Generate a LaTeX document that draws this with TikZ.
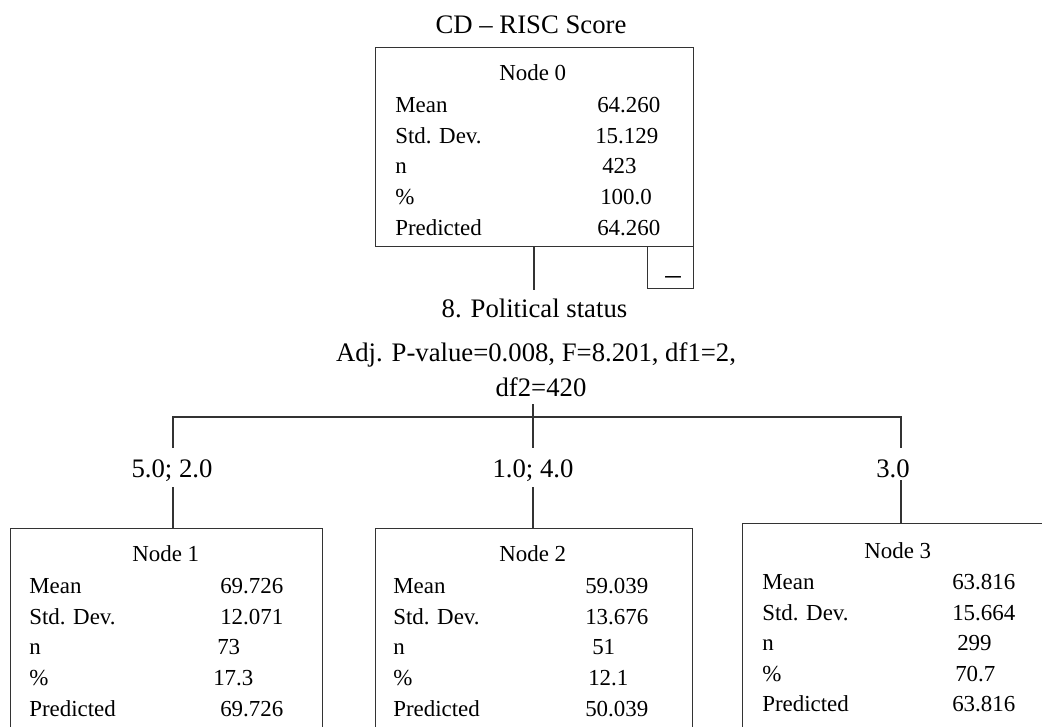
\documentclass[tikz,border=0pt]{standalone}
\usepackage{fontspec}
\setmainfont{Liberation Serif}
\usetikzlibrary{calc}
\begin{document}
\begin{tikzpicture}[x=0.025cm,y=-0.025cm]
\tikzset{every node/.style={inner sep=0pt},
 treebox/.style={draw=black!80, line width=1pt, anchor=north west},
 bigtxt/.style={anchor=base, font=\fontsize{19}{22}\selectfont},
 boxtxt/.style={anchor=base west, font=\fontsize{16.3}{19}\selectfont},
 boxhead/.style={anchor=base, font=\fontsize{16.3}{19}\selectfont},
 link/.style={draw=black!80, line width=1pt}}
\useasboundingbox (0,0) rectangle (1042,726);
\clip (0,0) rectangle (1042,726);

% root node
\node[bigtxt] (title) at (531,33) {CD -- RISC Score};
\node[treebox, minimum width=7.95cm, minimum height=4.975cm] (n0) at (375,47) {};
\node[treebox, minimum width=1.15cm, minimum height=1.05cm] (n0tog) at (647,246) {};
\node[anchor=base, font=\fontsize{22}{24}\selectfont] (n0minus) at (673,284.5) {--};
\node[boxhead] (n0h) at ($(n0.north)+(-2,33.6)$) {Node 0};
\foreach \lab/\val/\dx [count=\k] in {Mean/64.260/222, Std. Dev./15.129/220, n/423/227, \%/100.0/225, Predicted/64.260/222}{
  \node[boxtxt] (n0l\k) at ($(n0.north west)+(20,{65.6+30.6*(\k-1)})$) {\lab};
  \node[boxtxt] (n0v\k) at ($(n0.north west)+(\dx,{65.6+30.6*(\k-1)})$) {\val};
}

% split
\node[bigtxt] (split) at (534.5,317) {8. Political status};
\node[bigtxt] (splitstat) at (536,361) {Adj. P-value=0.008, F=8.201, df1=2,};
\node[bigtxt] (splitdf) at (541,396) {df2=420};

\coordinate (n0end) at (534,290);
\coordinate (hubtop) at (533,404);
\coordinate (hub) at (533,417);
\coordinate (b1top) at (173,448);
\coordinate (b2top) at (533,448);
\coordinate (b3top) at (901,448);
\coordinate (b1bot) at (173,487);
\coordinate (b2bot) at (533,487);
\coordinate (b3bot) at (901,480);

% branch labels
\node[bigtxt] (b1) at (172,477) {5.0; 2.0};
\node[bigtxt] (b2) at (533,477) {1.0; 4.0};
\node[bigtxt] (b3) at (893,477) {3.0};

% child nodes
\node[treebox, minimum width=7.8cm, minimum height=6cm] (n1) at (10,528) {};
\node[boxhead] (n1h) at ($(n1.north)+(-1,33.6)$) {Node 1};
\foreach \lab/\val/\dx [count=\k] in {Mean/69.726/210, Std. Dev./12.071/210, n/73/207, \%/17.3/203, Predicted/69.726/210}{
  \node[boxtxt] (n1l\k) at ($(n1.north west)+(19,{65.6+30.6*(\k-1)})$) {\lab};
  \node[boxtxt] (n1v\k) at ($(n1.north west)+(\dx,{65.6+30.6*(\k-1)})$) {\val};
}

\node[treebox, minimum width=7.925cm, minimum height=6cm] (n2) at (375,528) {};
\node[boxhead] (n2h) at ($(n2.north)+(-1.5,33.6)$) {Node 2};
\foreach \lab/\val/\dx [count=\k] in {Mean/59.039/210, Std. Dev./13.676/210, n/51/217, \%/12.1/213, Predicted/50.039/210}{
  \node[boxtxt] (n2l\k) at ($(n2.north west)+(18,{65.6+30.6*(\k-1)})$) {\lab};
  \node[boxtxt] (n2v\k) at ($(n2.north west)+(\dx,{65.6+30.6*(\k-1)})$) {\val};
}

\node[treebox, minimum width=7.95cm, minimum height=6cm] (n3) at (742,523) {};
\node[boxhead] (n3h) at ($(n3.north)+(-4,35.6)$) {Node 3};
\foreach \lab/\val/\dx [count=\k] in {Mean/63.816/210, Std. Dev./15.664/210, n/299/215, \%/70.7/213, Predicted/63.816/210}{
  \node[boxtxt] (n3l\k) at ($(n3.north west)+(20,{66.6+30.5*(\k-1)})$) {\lab};
  \node[boxtxt] (n3v\k) at ($(n3.north west)+(\dx,{66.6+30.5*(\k-1)})$) {\val};
}

% connectors
\draw[link] (n0end |- n0.south) -- (n0end);
\draw[link] (hubtop) -- (b2top);
\draw[link] (b1top) |- (hub) -| (b3top);
\draw[link] (b1bot) -- (b1bot |- n1.north);
\draw[link] (b2bot) -- (b2bot |- n2.north);
\draw[link] (b3bot) -- (b3bot |- n3.north);
\end{tikzpicture}
\end{document}
